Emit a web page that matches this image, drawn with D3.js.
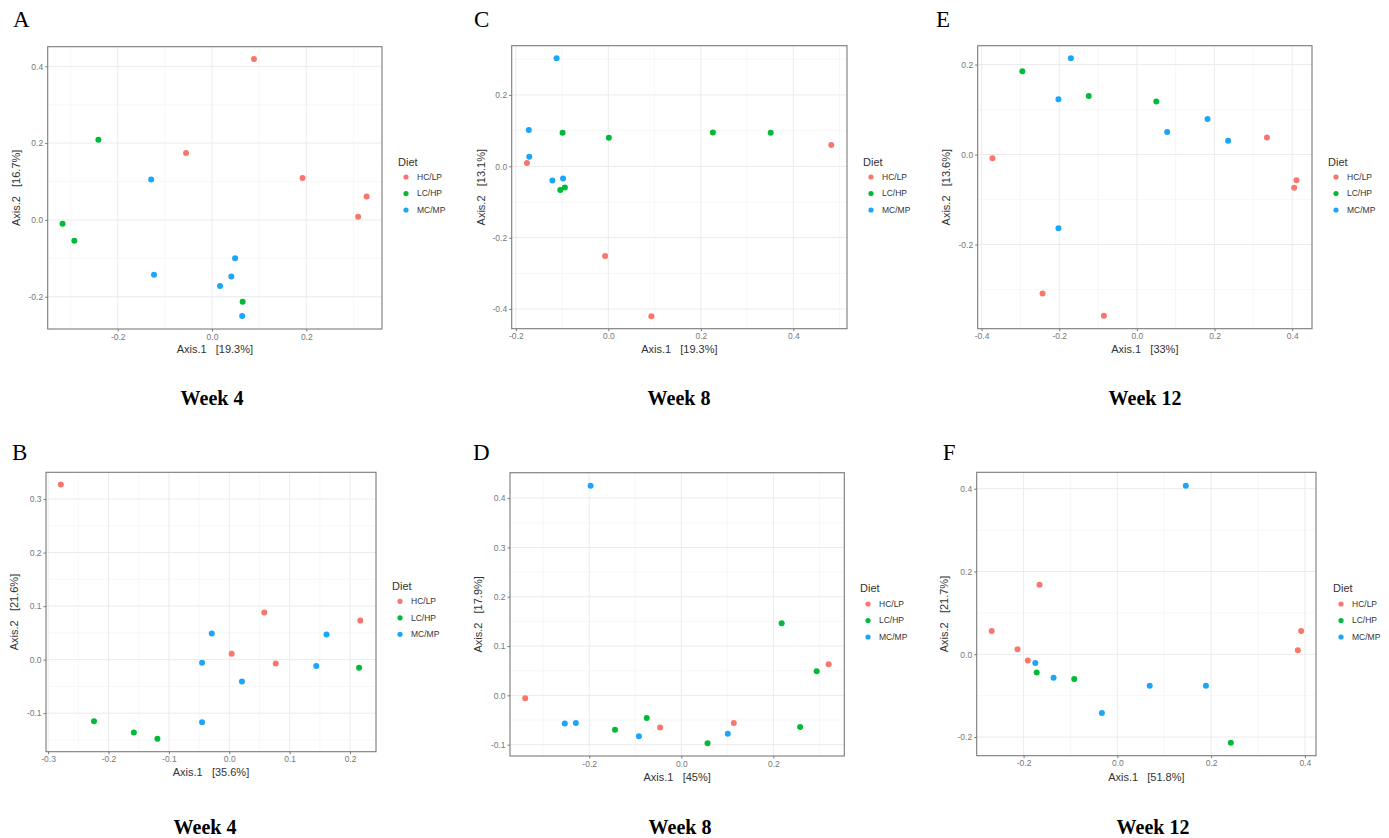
<!DOCTYPE html>
<html><head><meta charset="utf-8">
<script src="https://cdn.jsdelivr.net/npm/d3@7"></script>
<style>body{margin:0;background:#fff}svg{display:block}text{white-space:pre}</style>
</head><body>
<svg id="c" width="1389" height="838"></svg>
<script>
// ---------- DATA ----------
const groups = ["HC/LP", "LC/HP", "MC/MP"];
const colors = ["#F8766D", "#00BA38", "#19A6FB"];

// Panel A (Week 4)
const A_HCLP = [[0.089,0.419],[-0.055,0.174],[0.192,0.109],[0.328,0.061],[0.310,0.008]];
const A_LCHP = [[-0.241,0.209],[-0.317,-0.010],[-0.292,-0.054],[0.065,-0.213]];
const A_MCMP = [[-0.129,0.105],[-0.123,-0.143],[0.049,-0.100],[0.041,-0.147],[0.017,-0.172],[0.064,-0.250]];
// Panel C (Week 8)
const C_HCLP = [[-0.176,0.009],[-0.007,-0.251],[0.093,-0.420],[0.482,0.060]];
const C_LCHP = [[-0.099,0.094],[0.001,0.080],[0.226,0.095],[0.351,0.094],[-0.104,-0.066],[-0.094,-0.059]];
const C_MCMP = [[-0.112,0.303],[-0.172,0.102],[-0.171,0.027],[-0.121,-0.040],[-0.098,-0.034]];
// Panel E (Week 12)
const E_HCLP = [[-0.372,-0.008],[-0.243,-0.309],[-0.085,-0.358],[0.335,0.038],[0.411,-0.057],[0.405,-0.074]];
const E_LCHP = [[-0.295,0.185],[-0.124,0.130],[0.050,0.118]];
const E_MCMP = [[-0.170,0.214],[-0.202,0.123],[-0.202,-0.164],[0.078,0.050],[0.182,0.079],[0.235,0.031]];
// Panel B (Week 4)
const B_HCLP = [[-0.279,0.327],[0.058,0.088],[0.217,0.073],[0.004,0.011],[0.077,-0.007]];
const B_LCHP = [[-0.224,-0.115],[-0.158,-0.136],[-0.119,-0.148],[0.215,-0.015]];
const B_MCMP = [[-0.029,0.049],[-0.045,-0.006],[0.021,-0.041],[-0.045,-0.117],[0.161,0.047],[0.144,-0.012]];
// Panel D (Week 8)
const D_HCLP = [[-0.339,-0.006],[-0.046,-0.065],[0.114,-0.056],[0.320,0.063]];
const D_LCHP = [[-0.144,-0.070],[-0.075,-0.046],[0.057,-0.097],[0.218,0.146],[0.294,0.049],[0.258,-0.064]];
const D_MCMP = [[-0.197,0.425],[-0.253,-0.057],[-0.229,-0.056],[-0.092,-0.083],[0.101,-0.078]];
// Panel F (Week 12)
const F_HCLP = [[-0.268,0.056],[-0.213,0.012],[-0.191,-0.015],[-0.166,0.168],[0.392,0.056],[0.385,0.010]];
const F_LCHP = [[-0.172,-0.044],[-0.092,-0.060],[0.242,-0.214]];
const F_MCMP = [[-0.175,-0.021],[-0.136,-0.057],[-0.033,-0.142],[0.069,-0.076],[0.189,-0.076],[0.146,0.407]];

// Axis titles and tick values
const xTitles = {A:"Axis.1   [19.3%]", C:"Axis.1   [19.3%]", E:"Axis.1   [33%]", B:"Axis.1   [35.6%]", D:"Axis.1   [45%]", F:"Axis.1   [51.8%]"};
const yTitles = {A:"Axis.2   [16.7%]", C:"Axis.2   [13.1%]", E:"Axis.2   [13.6%]", B:"Axis.2   [21.6%]", D:"Axis.2   [17.9%]", F:"Axis.2   [21.7%]"};
const weekTitles = {A:"Week 4", C:"Week 8", E:"Week 12", B:"Week 4", D:"Week 8", F:"Week 12"};
const xTicks = {A:[-0.2,0,0.2], C:[-0.2,0,0.2,0.4], E:[-0.4,-0.2,0,0.2,0.4], B:[-0.3,-0.2,-0.1,0,0.1,0.2], D:[-0.2,0,0.2], F:[-0.2,0,0.2,0.4]};
const yTicks = {A:[-0.2,0,0.2,0.4], C:[-0.4,-0.2,0,0.2], E:[-0.2,0,0.2], B:[-0.1,0,0.1,0.2,0.3], D:[-0.1,0,0.1,0.2,0.3,0.4], F:[-0.2,0,0.2,0.4]};
const xDomains = {A:[-0.3485,0.3606], C:[-0.209,0.516], E:[-0.410,0.451], B:[-0.3035,0.243], D:[-0.372,0.354], F:[-0.300,0.4237]};
const yDomains = {A:[-0.284,0.451], C:[-0.455,0.338], E:[-0.387,0.242], B:[-0.172,0.350], D:[-0.123,0.4515], F:[-0.245,0.4396]};
const panelData = {
  A:[A_HCLP,A_LCHP,A_MCMP], C:[C_HCLP,C_LCHP,C_MCMP], E:[E_HCLP,E_LCHP,E_MCMP],
  B:[B_HCLP,B_LCHP,B_MCMP], D:[D_HCLP,D_LCHP,D_MCMP], F:[F_HCLP,F_LCHP,F_MCMP]
};

// ---------- LAYOUT ----------
const layout = {
  A:{x0:47.7,x1:382,y0:46.7,y1:329,letter:[13,27],week:[212,398],yt:16,xt:349.3,leg:[398,162,406,417,177]},
  C:{x0:511.7,x1:847,y0:45.7,y1:328.7,letter:[474,27],week:[679,398],yt:480.7,xt:349,leg:[863,162,871,882,177]},
  E:{x0:977.7,x1:1312,y0:45.7,y1:328.7,letter:[936,27],week:[1145,398],yt:946,xt:349,leg:[1328,162,1336,1347,177]},
  B:{x0:46,x1:376,y0:472.3,y1:751.7,letter:[12,460],week:[205,826.5],yt:14,xt:771.7,leg:[392,585.7,400,411,601.3]},
  D:{x0:510,x1:844.3,y0:472.7,y1:756,letter:[473,460],week:[680,826.5],yt:478.3,xt:776.7,leg:[860,588.3,868,879,604]},
  F:{x0:976.7,x1:1316,y0:472.3,y1:755.7,letter:[942.7,460],week:[1153,826.5],yt:944.3,xt:776.7,leg:[1333,588.3,1341,1352,604]}
};

const svg = d3.select("#c");
const sans = "'Liberation Sans', Arial, sans-serif";
const serif = "'Liberation Serif', 'Times New Roman', serif";
const fmt = v => v.toFixed(1);

function minorBreaks(ticks, dom) {
  const step = ticks[1]-ticks[0];
  const out = [];
  for (let i=-1;i<ticks.length;i++){
    const m = (i<0? ticks[0]-step/2 : ticks[i]+step/2);
    if (m>dom[0] && m<dom[1]) out.push(m);
  }
  return out;
}

Object.keys(layout).forEach(key => {
  const L = layout[key];
  const x = d3.scaleLinear().domain(xDomains[key]).range([L.x0, L.x1]);
  const y = d3.scaleLinear().domain(yDomains[key]).range([L.y1, L.y0]);
  const g = svg.append("g");

  g.append("rect").attr("x",L.x0).attr("y",L.y0).attr("width",L.x1-L.x0).attr("height",L.y1-L.y0).attr("fill","#fff");

  // minor grid
  const xm = minorBreaks(xTicks[key], xDomains[key]);
  const ym = minorBreaks(yTicks[key], yDomains[key]);
  g.selectAll(null).data(xm).join("line")
    .attr("x1",d=>x(d)).attr("x2",d=>x(d)).attr("y1",L.y0).attr("y2",L.y1)
    .attr("stroke","#f2f2f2").attr("stroke-width",0.6);
  g.selectAll(null).data(ym).join("line")
    .attr("y1",d=>y(d)).attr("y2",d=>y(d)).attr("x1",L.x0).attr("x2",L.x1)
    .attr("stroke","#f2f2f2").attr("stroke-width",0.6);
  // major grid
  g.selectAll(null).data(xTicks[key]).join("line")
    .attr("x1",d=>x(d)).attr("x2",d=>x(d)).attr("y1",L.y0).attr("y2",L.y1)
    .attr("stroke","#ebebeb").attr("stroke-width",1);
  g.selectAll(null).data(yTicks[key]).join("line")
    .attr("y1",d=>y(d)).attr("y2",d=>y(d)).attr("x1",L.x0).attr("x2",L.x1)
    .attr("stroke","#ebebeb").attr("stroke-width",1);

  // axes
  const ax = g.append("g").attr("transform",`translate(0,${L.y1})`)
    .call(d3.axisBottom(x).tickValues(xTicks[key]).tickFormat(fmt).tickSize(2.5).tickPadding(2));
  const ay = g.append("g").attr("transform",`translate(${L.x0},0)`)
    .call(d3.axisLeft(y).tickValues(yTicks[key]).tickFormat(fmt).tickSize(2.5).tickPadding(2));
  [ax,ay].forEach(a=>{
    a.select(".domain").remove();
    a.selectAll(".tick line").attr("stroke","#555").attr("stroke-width",0.8);
    a.selectAll(".tick text").attr("fill","#777").style("font-family",sans).style("font-size","8.5px");
  });

  // border
  g.append("rect").attr("x",L.x0).attr("y",L.y0).attr("width",L.x1-L.x0).attr("height",L.y1-L.y0)
    .attr("fill","none").attr("stroke","#7a7a7a").attr("stroke-width",1.1);

  // points
  panelData[key].forEach((arr,gi)=>{
    g.selectAll(null).data(arr).join("circle")
      .attr("cx",d=>x(d[0])).attr("cy",d=>y(d[1])).attr("r",3)
      .attr("fill",colors[gi]);
  });

  // axis titles
  g.append("text").attr("x",(L.x0+L.x1)/2).attr("y",L.xt).attr("dy","0.35em")
    .attr("text-anchor","middle").style("font-family",sans).style("font-size","11px").attr("fill","#333")
    .text(xTitles[key]);
  g.append("text").attr("transform",`translate(${L.yt},${(L.y0+L.y1)/2}) rotate(-90)`).attr("dy","0.35em")
    .attr("text-anchor","middle").style("font-family",sans).style("font-size","11px").attr("fill","#333")
    .text(yTitles[key]);

  // legend
  const [lx, ly, dx, tx, dy0] = L.leg;
  g.append("text").attr("x",lx).attr("y",ly).attr("dy","0.35em")
    .style("font-family",sans).style("font-size","11px").attr("fill","#333").text("Diet");
  groups.forEach((name,i)=>{
    const yy = dy0 + i*16.5;
    g.append("circle").attr("cx",dx).attr("cy",yy).attr("r",2.6).attr("fill",colors[i]);
    g.append("text").attr("x",tx).attr("y",yy).attr("dy","0.35em")
      .style("font-family",sans).style("font-size","8.5px").attr("fill","#333").text(name);
  });

  // panel letter
  g.append("text").attr("x",L.letter[0]).attr("y",L.letter[1])
    .style("font-family",serif).style("font-size","23px").attr("fill","#000").text(key);
  // week title
  g.append("text").attr("x",L.week[0]).attr("y",L.week[1]).attr("dy","0.35em").attr("text-anchor","middle")
    .style("font-family",serif).style("font-size","20px").style("font-weight","bold").attr("fill","#000")
    .text(weekTitles[key]);
});
</script>
</body></html>
